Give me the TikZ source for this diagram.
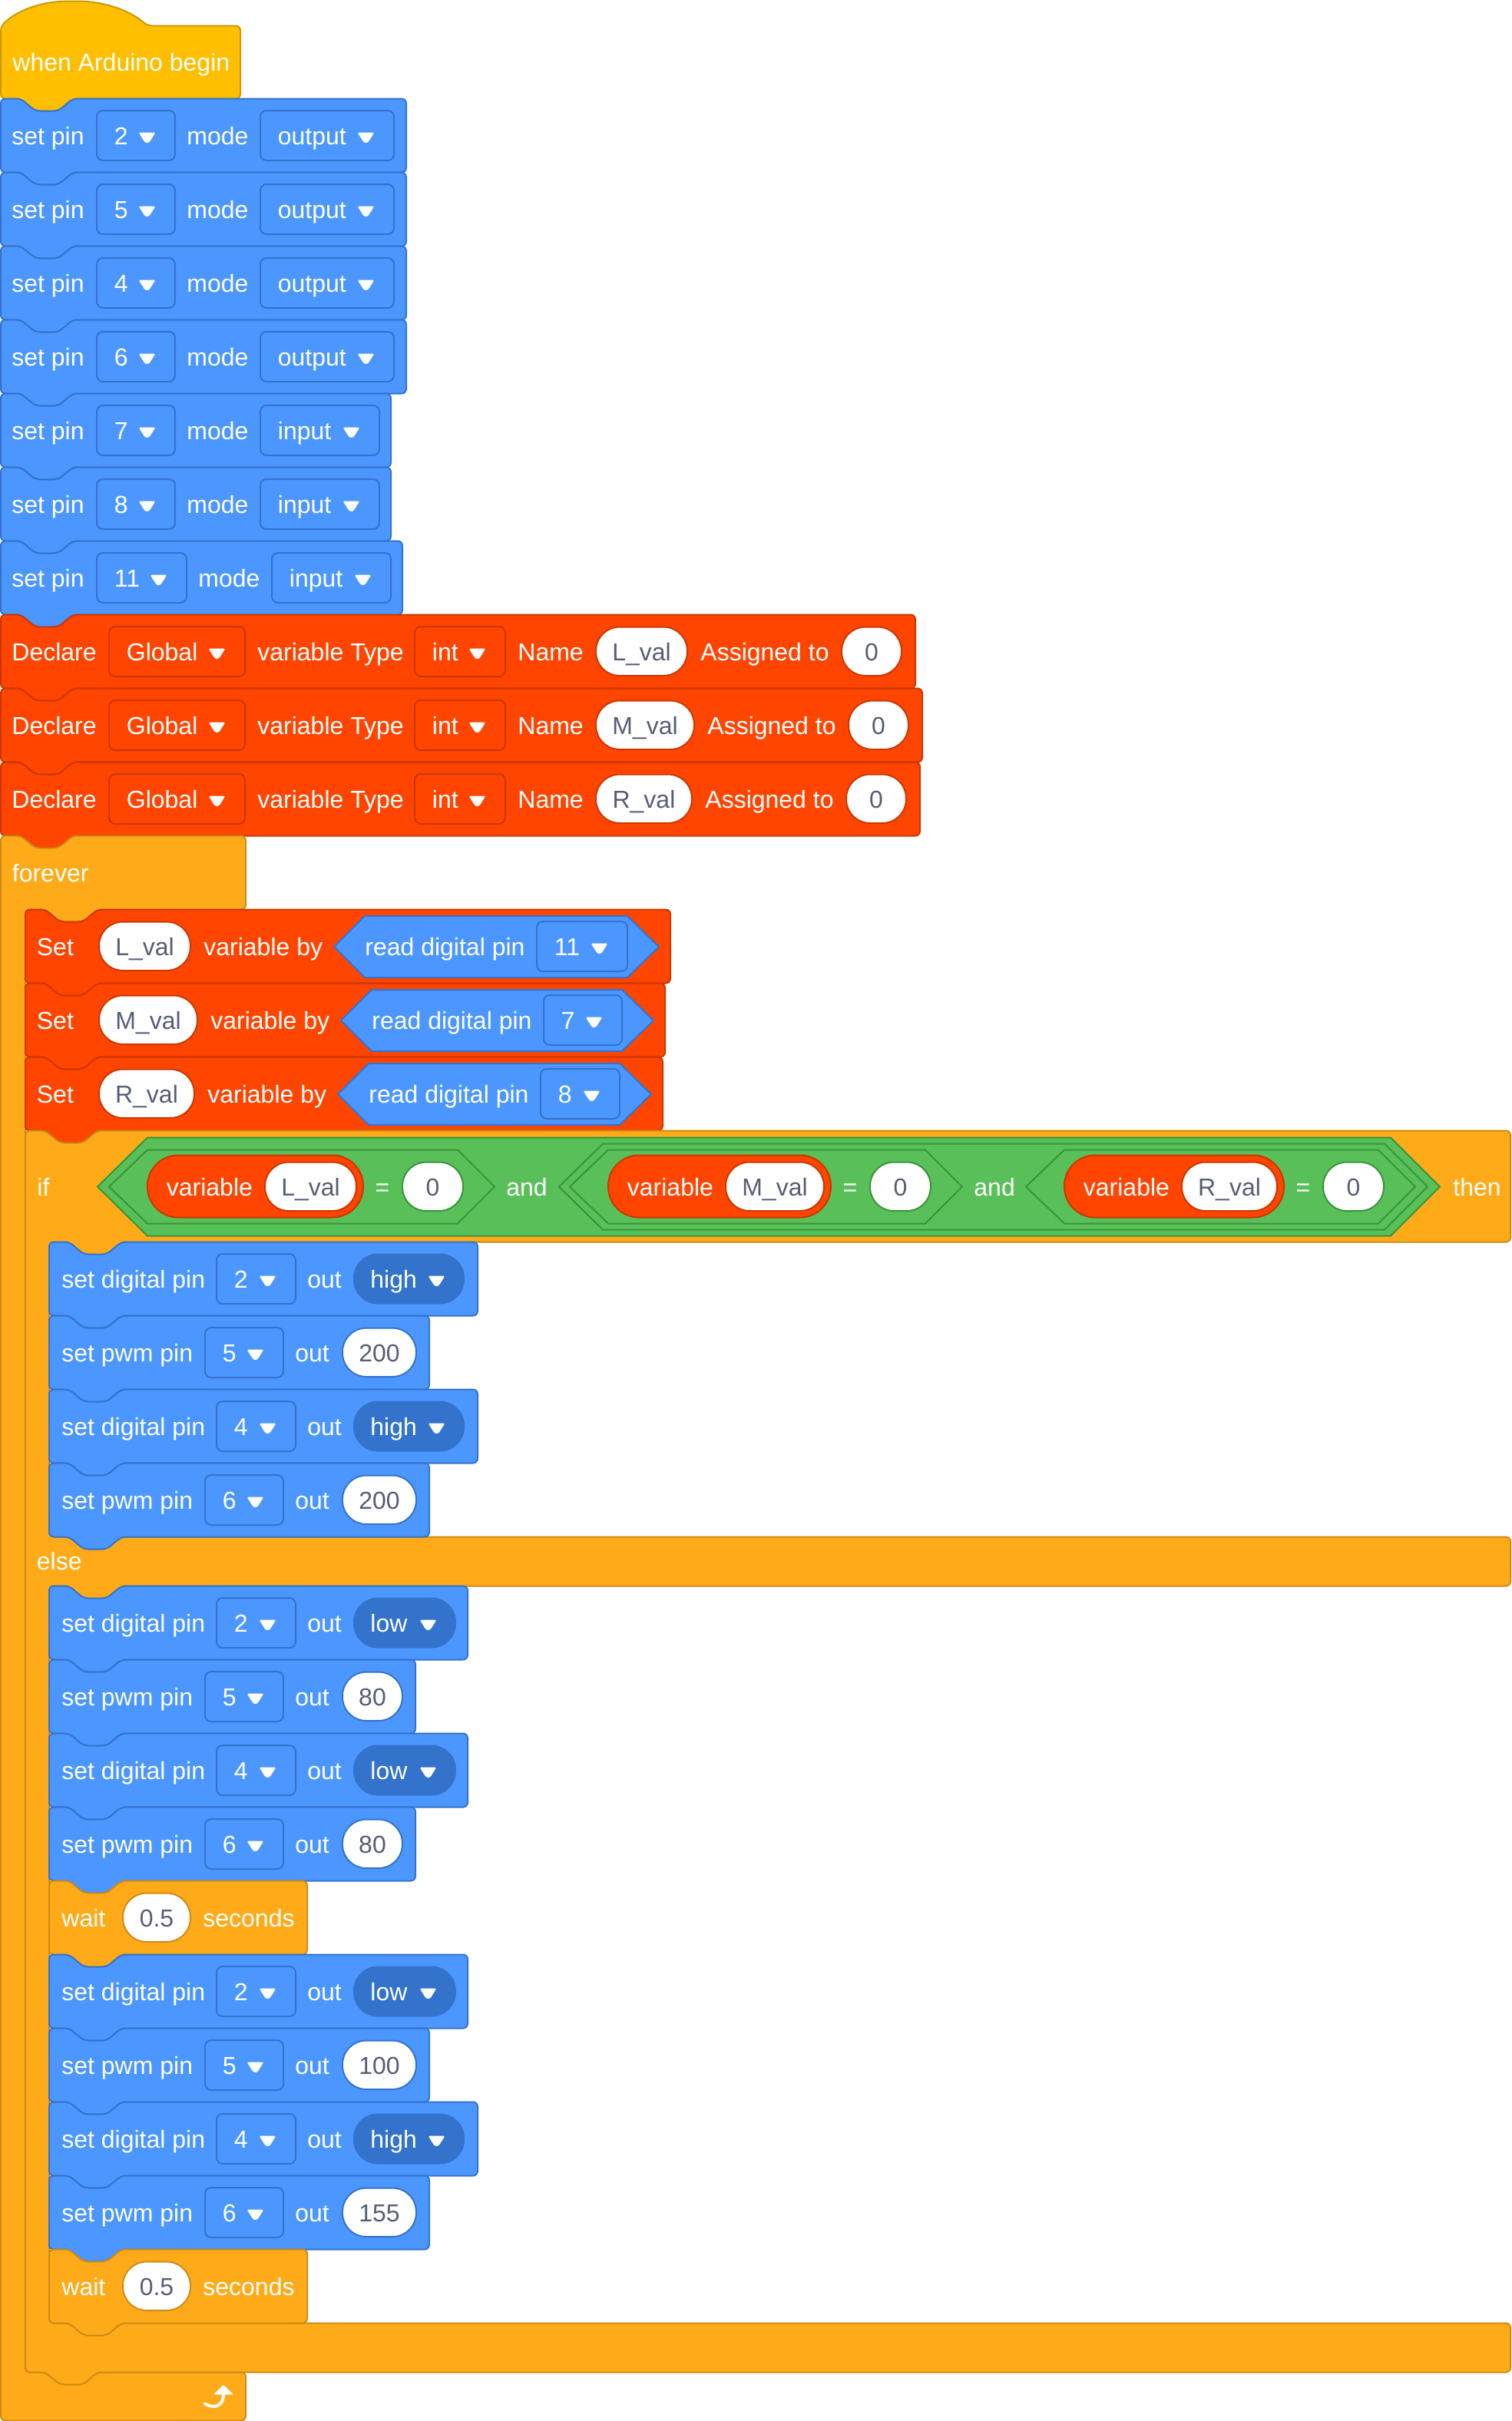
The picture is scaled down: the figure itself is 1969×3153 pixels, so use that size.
\documentclass[tikz,border=0pt]{standalone}
\usepackage{fontspec}
\setmainfont{Liberation Sans}
\usepackage{xcolor}
\definecolor{hatfill}{HTML}{FFBF00}
\definecolor{hatline}{HTML}{CC9900}
\definecolor{bluefill}{HTML}{4C97FF}
\definecolor{blueline}{HTML}{3373CC}
\definecolor{redfill}{HTML}{FF4500}
\definecolor{redline}{HTML}{CC3700}
\definecolor{orangefill}{HTML}{FFAB19}
\definecolor{orangeline}{HTML}{CF8B17}
\definecolor{greenfill}{HTML}{59C059}
\definecolor{greenline}{HTML}{389438}
\definecolor{pilltext}{HTML}{575E75}
\tikzset{
    hatblock/.style={draw=hatline, fill=hatfill, line width=1pt, rounded corners=3pt},
    blueblock/.style={draw=blueline, fill=bluefill, line width=1pt, rounded corners=3pt},
    redblock/.style={draw=redline, fill=redfill, line width=1pt, rounded corners=3pt},
    orangeblock/.style={draw=orangeline, fill=orangefill, line width=1pt, rounded corners=3pt},
    greenhex/.style={draw=greenline, fill=greenfill, line width=1pt},
    bluehex/.style={draw=blueline, fill=bluefill, line width=1pt},
    bluefield/.style={draw=blueline, line width=1pt, rounded corners=4pt},
    redfield/.style={draw=redline, line width=1pt, rounded corners=4pt},
    bluepill/.style={draw=blueline, fill=white, line width=1pt, rounded corners=15.5pt},
    redpill/.style={draw=redline, fill=white, line width=1pt, rounded corners=15.5pt},
    greenpill/.style={draw=greenline, fill=white, line width=1pt, rounded corners=15.5pt},
    orangepill/.style={draw=orangeline, fill=white, line width=1pt, rounded corners=15.5pt},
    levelpill/.style={fill=blueline, rounded corners=16pt},
    varpill/.style={draw=redline, fill=redfill, line width=1pt, rounded corners=20pt},
    word/.style={anchor=base west, inner sep=0pt, text=white, font=\fontsize{16}{19}\selectfont},
    midword/.style={word, anchor=base},
    pillword/.style={word, anchor=base, text=pilltext}
}
% notch of a block, once left to right and once right to left
\newcommand{\notchfwd}[2]{-- (#1+26,#2) -- (#1+45,#2+16) -- (#1+75,#2+16) -- (#1+94,#2)}
\newcommand{\notchbck}[2]{-- (#1+94,#2) -- (#1+75,#2+16) -- (#1+45,#2+16) -- (#1+26,#2)}
% style, left, top, right
\newcommand{\stackblock}[4]{\draw[#1] (#2,#3+50) -- (#2,#3) \notchfwd{#2}{#3} -- (#4,#3) -- (#4,#3+96) \notchbck{#2}{#3+96} -- (#2,#3+96) -- cycle;}
\newcommand{\blocktext}[4]{\node[word] (#1) at (#2,#3+60) {#4};}
\newcommand{\ddarrow}[2]{\fill[white, rounded corners=1.2pt] (#1-11,#2+44) -- (#1+11,#2+44) -- (#1+2.5,#2+57.5) -- (#1-2.5,#2+57.5) -- cycle;}
\newcommand{\dropbox}[6][bluefield]{
  \draw[#1] (#3,#5+15.5) rectangle (#4,#5+80.5);
  \node[word] (#2) at (#3+22.5,#5+60) {#6};
  \ddarrow{#4-36.5}{#5}
}
\newcommand{\pillbox}[6][bluepill]{
  \draw[#1] (#3,#5+16) rectangle (#4,#5+79.5);
  \node[pillword] (#2) at ({(#3+#4)/2},#5+60) {#6};
}
% name, right of pill, top, level
\newcommand{\levelbox}[4]{
  \fill[levelpill] (460,#3+15) rectangle (#2,#3+81);
  \node[word] (#1) at (482,#3+60) {#4};
  \ddarrow{#2-36.5}{#3}
}
% name, top, pin, right of pin box, mode, mode box left and right, block right
\newcommand{\setpin}[8]{
  \stackblock{blueblock}{1}{#2}{#8}
  \blocktext{#1-set}{15}{#2}{set pin}
  \dropbox{#1-pin}{126}{#4}{#2}{#3}
  \blocktext{#1-mode}{#4+15}{#2}{mode}
  \dropbox{#1-val}{#6}{#7}{#2}{#5}
}
% name, top, variable, right of variable pill
\newcommand{\declarerow}[4]{
  \stackblock{redblock}{1}{#2}{#4+297}
  \blocktext{#1-decl}{15}{#2}{Declare}
  \dropbox[redfield]{#1-scope}{142}{319}{#2}{Global}
  \blocktext{#1-type}{335}{#2}{variable Type}
  \dropbox[redfield]{#1-int}{540}{658}{#2}{int}
  \blocktext{#1-name}{674}{#2}{Name}
  \pillbox[redpill]{#1-var}{776}{#4}{#2}{#3}
  \blocktext{#1-assign}{#4+17}{#2}{Assigned to}
  \pillbox[redpill]{#1-zero}{#4+201}{#4+279}{#2}{0}
}
% name, top, variable, right of variable pill, pin, right of pin box
\newcommand{\setvar}[6]{
  \stackblock{redblock}{33}{#2}{#6+56}
  \blocktext{#1-set}{47.5}{#2}{Set}
  \pillbox[redpill]{#1-var}{129}{#4}{#2}{#3}
  \blocktext{#1-by}{#4+17}{#2}{variable by}
  \draw[bluehex] (#4+187,#2+48.5) -- (#4+227,#2+8.5) -- (#6,#2+8.5) -- (#6+41,#2+48.5) -- (#6,#2+88.5) -- (#4+227,#2+88.5) -- cycle;
  \blocktext{#1-read}{#4+227}{#2}{read digital pin}
  \dropbox{#1-pin}{#4+451}{#6}{#2}{#5}
}
% name, top, pin, level, right of level pill, block right
\newcommand{\digitalout}[6]{
  \stackblock{blueblock}{64}{#2}{#6}
  \blocktext{#1-set}{80}{#2}{set digital pin}
  \dropbox{#1-pin}{282}{385}{#2}{#3}
  \blocktext{#1-out}{400}{#2}{out}
  \levelbox{#1-level}{#5}{#2}{#4}
}
% name, top, pin, value, right of value pill, block right
\newcommand{\pwmout}[6]{
  \stackblock{blueblock}{64}{#2}{#6}
  \blocktext{#1-set}{80}{#2}{set pwm pin}
  \dropbox{#1-pin}{267}{369}{#2}{#3}
  \blocktext{#1-out}{384}{#2}{out}
  \pillbox{#1-val}{446}{#5}{#2}{#4}
}
\newcommand{\waitrow}[2]{
  \stackblock{orangeblock}{64}{#2}{400}
  \blocktext{#1-wait}{80}{#2}{wait}
  \pillbox[orangepill]{#1-val}{160}{248}{#2}{0.5}
  \blocktext{#1-sec}{264}{#2}{seconds}
}
% name, left of variable pill, variable, right of white pill
\newcommand{\compare}[4]{
  \draw[greenhex] (#2-50,1545) -- (#2,1497) -- (#4+132,1497) -- (#4+180,1545) -- (#4+132,1593) -- (#2,1593) -- cycle;
  \draw[varpill] (#2,1504) rectangle (#4+9,1585);
  \blocktext{#1-var}{#2+24.5}{1497}{variable}
  \pillbox[redpill]{#1-name}{#2+153}{#4}{1497}{#3}
  \node[midword] (#1-eq) at (#4+34,1557) {=};
  \pillbox[greenpill]{#1-zero}{#4+60}{#4+139}{1497}{0}
}

\begin{document}
\begin{tikzpicture}[x=0.5pt, y=-0.5pt]
  \useasboundingbox (0,0) rectangle (1969,3153);
  \begin{scope}[yshift=-0.25pt]

  % Start hat
  \draw[hatblock] (1,34) .. controls (25,10) and (60,1) .. (95,1) .. controls (130,1) and (165,10) .. (192,33) -- (313,33) -- (313,128) \notchbck{1}{128} -- (1,128) -- cycle;
  \blocktext{begin}{16}{32}{when Arduino begin}

  % Pin setup
  \setpin{pinA}{128}{2}{228}{output}{339}{513}{529}
  \setpin{pinB}{224}{5}{228}{output}{339}{513}{529}
  \setpin{pinC}{320}{4}{228}{output}{339}{513}{529}
  \setpin{pinD}{416}{6}{228}{output}{339}{513}{529}
  \setpin{pinE}{512}{7}{228}{input}{339}{494}{509}
  \setpin{pinF}{608}{8}{228}{input}{339}{494}{509}
  \setpin{pinG}{704}{11}{243}{input}{354}{509}{524}

  % Global variables
  \declarerow{declL}{800}{L\_val}{895}
  \declarerow{declM}{896}{M\_val}{904}
  \declarerow{declR}{992}{R\_val}{901}

  % Forever loop
  \draw[orangeblock] (1,1130) -- (1,1088) \notchfwd{1}{1088} -- (320,1088) -- (320,1184) \notchbck{33}{1184} -- (33,1184) -- (33,3089) \notchfwd{33}{3089} -- (320,3089) -- (320,3152) -- (1,3152) -- cycle;
  \blocktext{forever}{15.5}{1088}{forever}

  % Loop arrow
  \draw[white, line width=2pt, line cap=round] (267,3130) .. controls (280,3138) and (292,3132) .. (291,3116);
  \fill[white, rounded corners=0.8pt] (291,3105) -- (304,3118) -- (278,3118) -- cycle;

  % Read sensors
  \setvar{setL}{1184}{L\_val}{248}{11}{817}
  \setvar{setM}{1280}{M\_val}{257}{7}{810}
  \setvar{setR}{1376}{R\_val}{253}{8}{807}

  % If block with its else bar and foot
  \draw[orangeblock] (33,1520) -- (33,1472) \notchfwd{33}{1472} -- (1967,1472) -- (1967,1617) \notchbck{64}{1617} -- (64,1617) -- (64,2001) \notchfwd{64}{2001} -- (1967,2001) -- (1967,2065) \notchbck{64}{2065} -- (64,2065) -- (64,3025) \notchfwd{64}{3025} -- (1967,3025) -- (1967,3089) \notchbck{33}{3089} -- (33,3089) -- cycle;
  \blocktext{if}{48}{1497}{if}
  \blocktext{then}{1892}{1497}{then}
  \blocktext{else}{47.5}{1984}{else}

  % Condition
  \draw[greenhex] (127,1545) -- (192,1481) -- (1811,1481) -- (1875,1545) -- (1811,1609) -- (192,1609) -- cycle;
  \compare{cmpL}{192}{L\_val}{464}
  \blocktext{andA}{659}{1497}{and}
  \draw[greenhex] (728,1545) -- (785,1489) -- (1803,1489) -- (1859,1545) -- (1803,1601) -- (785,1601) -- cycle;
  \compare{cmpM}{792}{M\_val}{1073}
  \blocktext{andB}{1268}{1497}{and}
  \compare{cmpR}{1386}{R\_val}{1663}

  % Then branch
  \digitalout{thenA}{1617}{2}{high}{605}{622}
  \pwmout{thenB}{1713}{5}{200}{542}{559}
  \digitalout{thenC}{1809}{4}{high}{605}{622}
  \pwmout{thenD}{1905}{6}{200}{542}{559}

  % Else branch
  \digitalout{elseA}{2065}{2}{low}{594}{609}
  \pwmout{elseB}{2161}{5}{80}{524}{541}
  \digitalout{elseC}{2257}{4}{low}{594}{609}
  \pwmout{elseD}{2353}{6}{80}{524}{541}
  \waitrow{waitA}{2449}
  \digitalout{elseE}{2545}{2}{low}{594}{609}
  \pwmout{elseF}{2641}{5}{100}{542}{559}
  \digitalout{elseG}{2737}{4}{high}{605}{622}
  \pwmout{elseH}{2833}{6}{155}{542}{559}
  \waitrow{waitB}{2929}
  \end{scope}
\end{tikzpicture}
\end{document}
